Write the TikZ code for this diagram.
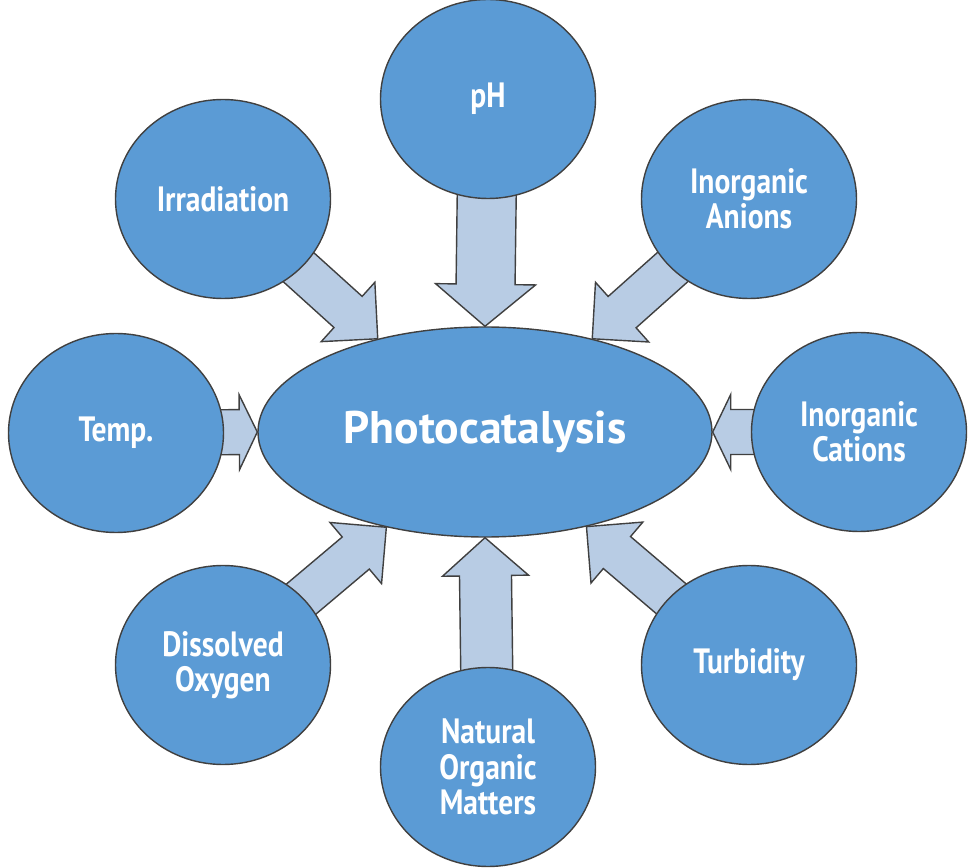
\documentclass[tikz,border=0pt]{standalone}
\usepackage{fontspec}
\setmainfont{PT Sans}[FakeStretch=0.84]
\newfontfamily\hubfont{PT Sans}
\usetikzlibrary{shapes.geometric,calc,backgrounds}
\definecolor{ballblue}{RGB}{91,155,213}
\definecolor{arrowblue}{RGB}{184,204,228}
\tikzset{ball/.style={ellipse,draw=black!75,line width=0.8pt,fill=ballblue,minimum width=4.3cm,minimum height=3.98cm,text=white,font=\bfseries\fontsize{20}{20}\selectfont,align=center}}
\tikzset{hub/.style={ball,minimum width=9.08cm,minimum height=4.2cm,font=\hubfont\bfseries\fontsize{26}{30}\selectfont}}
\tikzset{arrowbox/.style={draw=black!75,line width=0.8pt,fill=arrowblue,line join=miter}}
% block arrow: from, to, shaft half width, head half width, head length
\newcommand{\blockarrow}[5]{
	\coordinate (hb) at ($(#2)!#5!(#1)$);
	\draw[arrowbox] ($(#1)!#3!90:(#2)$) -- ($(hb)!#3!90:(#2)$) -- ($(hb)!#4!90:(#2)$) -- (#2) -- ($(hb)!#4!-90:(#2)$) -- ($(hb)!#3!-90:(#2)$) -- ($(#1)!#3!-90:(#2)$) -- cycle;
}

\begin{document}
\begin{tikzpicture}
	\useasboundingbox (0,0) rectangle (19.48,17.34);
	\node[hub] (photo) at (9.7,8.7) {Photocatalysis};
	\node[ball] (ph) at (9.76,15.36) {pH};
	\node[ball] (irr) at (4.46,13.36) {Irradiation};
	\node[ball] (anion) at (14.98,13.36) {Inorganic\\Anions};
	\node[ball] (temp) at (2.32,8.68) {Temp.};
	\node[ball] (cation) at (17.18,8.7) {Inorganic\\Cations};
	\node[ball] (oxy) at (4.46,4.04) {Dissolved\\Oxygen};
	\node[ball] (nom) at (9.76,2.0) {Natural\\Organic\\Matters};
	\node[ball] (turb) at (14.98,4.04) {Turbidity};
	\begin{scope}[on background layer]
		\blockarrow{ph}{photo.90}{0.59cm}{1.0cm}{0.84cm}
		\blockarrow{nom}{photo.-90}{0.52cm}{0.86cm}{0.76cm}
		\blockarrow{irr}{photo.139}{0.42cm}{0.8cm}{0.8cm}
		\blockarrow{anion}{photo.41}{0.42cm}{0.8cm}{0.8cm}
		\blockarrow{oxy}{photo.-136}{0.42cm}{0.8cm}{0.8cm}
		\blockarrow{turb}{photo.-43}{0.42cm}{0.8cm}{0.8cm}
		\blockarrow{temp}{photo.180}{0.45cm}{0.75cm}{0.36cm}
		\blockarrow{cation}{photo.0}{0.45cm}{0.75cm}{0.36cm}
	\end{scope}
\end{tikzpicture}
\end{document}
